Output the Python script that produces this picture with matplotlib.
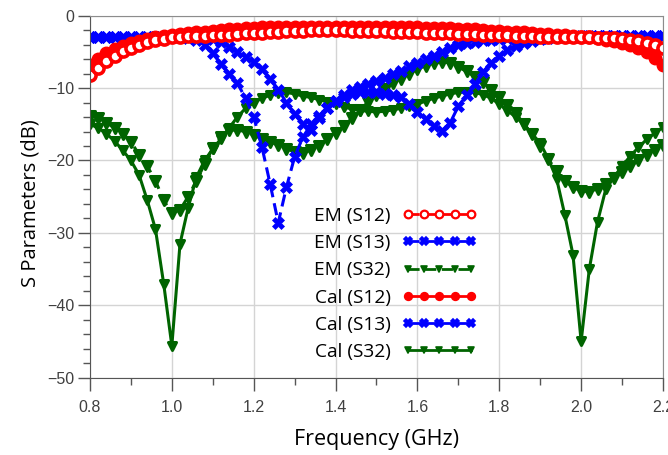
import matplotlib.pyplot as plt
import numpy as np
from matplotlib.lines import Line2D
from matplotlib.markers import MarkerStyle
from matplotlib.ticker import MultipleLocator

# frequency sweep, 0.8-2.2 GHz in 20 MHz steps
freq = np.linspace(0.8, 2.2, 71)

em_s12 = [-8.2, -7.2, -6.3, -5.5, -4.9, -4.4, -4.0, -3.7, -3.4, -3.2,
          -3.0, -2.9, -2.85, -2.8, -2.75, -2.7, -2.65, -2.6, -2.5, -2.45,
          -2.4, -2.35, -2.3, -2.2, -2.15, -2.1, -2.05, -2.0, -2.0, -2.0,
          -2.0, -2.0, -2.05, -2.05, -2.1, -2.1, -2.15, -2.2, -2.25, -2.3,
          -2.3, -2.35, -2.4, -2.4, -2.45, -2.5, -2.5, -2.55, -2.6, -2.65,
          -2.7, -2.7, -2.75, -2.8, -2.85, -2.9, -2.9, -2.95, -2.95, -3.0,
          -3.0, -3.0, -3.05, -3.1, -3.1, -3.2, -3.3, -3.5, -3.8, -4.1, -4.4]
em_s13 = [-3.0, -2.9, -3.0, -2.9, -3.0, -2.9, -3.0, -2.9, -3.0, -3.0,
          -3.0, -3.0, -3.1, -3.3, -4.0, -5.2, -6.7, -8.0, -9.3, -11.4,
          -14.0, -18.1, -23.2, -28.6, -23.7, -19.5, -16.8, -15.0, -13.8, -12.8,
          -11.8, -11.0, -10.3, -9.8, -9.4, -9.0, -8.6, -8.1, -7.6, -7.0,
          -6.5, -6.0, -5.5, -5.0, -4.5, -4.1, -3.8, -3.6, -3.4, -3.3,
          -3.2, -3.1, -3.1, -3.0, -3.0, -3.0, -2.9, -2.9, -2.9, -2.9,
          -2.8, -2.8, -2.8, -2.8, -2.8, -2.8, -2.8, -2.8, -2.8, -2.8, -2.8]
em_s32 = [-13.8, -14.2, -14.8, -15.5, -16.4, -17.4, -19.2, -20.8, -22.8, -25.5,
          -27.3, -26.8, -25.0, -22.8, -20.5, -18.3, -16.8, -15.8, -15.8, -16.0,
          -16.5, -17.0, -17.4, -17.9, -18.4, -18.8, -18.9, -18.6, -18.0, -17.1,
          -16.2, -15.2, -14.2, -13.0, -11.9, -10.9, -10.1, -9.3, -8.7, -8.0,
          -7.4, -6.9, -6.6, -6.4, -6.5, -7.1, -7.7, -8.4, -9.2, -10.2,
          -11.3, -12.4, -13.5, -14.9, -16.4, -18.0, -19.8, -21.5, -22.8, -23.7,
          -24.2, -24.3, -23.9, -23.2, -22.4, -21.6, -20.8, -20.0, -19.2, -18.5, -17.8]

cal_s12 = [-6.8, -6.0, -5.2, -4.6, -4.2, -3.8, -3.5, -3.2, -3.0, -2.8,
           -2.6, -2.5, -2.4, -2.3, -2.2, -2.1, -2.0, -1.9, -1.8, -1.7,
           -1.65, -1.6, -1.6, -1.55, -1.55, -1.5, -1.5, -1.5, -1.5, -1.5,
           -1.5, -1.5, -1.5, -1.5, -1.5, -1.5, -1.55, -1.55, -1.6, -1.6,
           -1.6, -1.65, -1.7, -1.7, -1.75, -1.8, -1.85, -1.9, -2.0, -2.05,
           -2.1, -2.2, -2.25, -2.3, -2.4, -2.5, -2.55, -2.6, -2.7, -2.8,
           -2.9, -3.0, -3.1, -3.3, -3.5, -3.8, -4.1, -4.5, -5.0, -5.8, -6.8]
cal_s13 = [-3.0, -3.0, -2.9, -3.0, -2.9, -3.0, -2.9, -3.0, -3.0, -2.9,
           -3.0, -3.0, -3.0, -3.0, -3.1, -3.2, -3.6, -4.3, -5.0, -5.7,
           -6.4, -7.4, -8.7, -10.2, -12.0, -13.6, -15.0, -15.8, -14.2, -12.8,
           -11.8, -11.2, -10.8, -10.6, -10.5, -10.6, -10.8, -11.0, -11.3, -12.2,
           -13.3, -14.3, -15.2, -15.9, -14.8, -12.5, -11.0, -9.5, -7.8, -6.5,
           -5.5, -4.7, -4.2, -3.8, -3.5, -3.2, -3.1, -3.0, -3.0, -2.9,
           -2.9, -2.9, -2.8, -2.8, -2.8, -2.8, -2.8, -2.8, -2.8, -2.8, -2.8]
cal_s32 = [-15.0, -15.5, -16.3, -17.3, -18.6, -20.0, -22.0, -25.5, -29.5, -37.0,
           -45.6, -31.5, -26.5, -22.3, -20.0, -18.4, -17.0, -15.5, -14.0, -12.8,
           -12.0, -11.4, -11.0, -10.7, -10.6, -10.8, -11.1, -11.3, -11.6, -11.9,
           -12.2, -12.6, -12.9, -13.1, -13.2, -13.3, -13.2, -13.0, -12.8, -12.5,
           -12.2, -11.8, -11.4, -11.1, -10.8, -10.6, -10.5, -10.6, -10.9, -11.4,
           -12.2, -13.1, -14.0, -15.0, -16.3, -17.6, -19.8, -22.5, -27.5, -33.0,
           -45.0, -35.0, -28.5, -24.0, -22.3, -20.8, -19.4, -18.2, -17.1, -16.2, -15.4]

labels = ['EM (S12)', 'EM (S13)', 'EM (S32)', 'Cal (S12)', 'Cal (S13)', 'Cal (S32)']

red = '#ff0000'
blue = '#0000ff'
green = '#006400'
tri = MarkerStyle('v', joinstyle='round')

styles = {
    'EM (S12)': dict(color=red, ls=(0, (4, 2)), marker='o', mfc='white', mec=red, ms=8, mew=2.6),
    'EM (S13)': dict(color=blue, ls=(0, (4, 2)), marker='X', mfc=blue, mec=blue, ms=9, mew=0.5),
    'EM (S32)': dict(color=green, ls=(0, (4, 2)), marker=tri, mfc=green, mec=green, ms=6.5, mew=2.2),
    'Cal (S12)': dict(color=red, ls='-', marker='o', mfc=red, mec=red, ms=9, mew=1),
    'Cal (S13)': dict(color=blue, ls='-', marker='X', mfc=blue, mec=blue, ms=9, mew=0.5),
    'Cal (S32)': dict(color=green, ls='-', marker=tri, mfc=green, mec=green, ms=5.5, mew=2.2),
}
series = {
    'EM (S12)': em_s12, 'EM (S13)': em_s13, 'EM (S32)': em_s32,
    'Cal (S12)': cal_s12, 'Cal (S13)': cal_s13, 'Cal (S32)': cal_s32,
}

fig = plt.figure(figsize=(6.68, 4.55), dpi=100)
ax = fig.add_axes([0.1347, 0.170, 0.8578, 0.7955])

for name in ['Cal (S32)', 'EM (S32)', 'Cal (S13)', 'EM (S13)', 'Cal (S12)', 'EM (S12)']:
    ax.plot(freq, series[name], lw=2.2, **styles[name])

ax.set_xlim(0.8, 2.2)
ax.set_ylim(-50, 0)
ax.xaxis.set_major_locator(MultipleLocator(0.2))
ax.xaxis.set_minor_locator(MultipleLocator(0.1))
ax.yaxis.set_major_locator(MultipleLocator(10))
ax.yaxis.set_minor_locator(MultipleLocator(2))
ax.set_xticklabels([f'{v:.1f}' for v in ax.get_xticks()])
ax.grid(True, which='major', color='#d4d4d4', lw=1)
ax.set_axisbelow(True)

for s in ax.spines.values():
    s.set_color('#8c8c8c')
ax.spines['left'].set_color('#555555')
ax.spines['bottom'].set_color('#555555')
ax.tick_params(which='major', length=9, width=1, color='#555555', pad=2,
               labelsize=11.5, labelcolor='#404040')
ax.tick_params(which='minor', length=5, width=1, color='#555555')
ax.tick_params(axis='x', which='major', pad=7)
for t in ax.get_xticklabels() + ax.get_yticklabels():
    t.set_family('Liberation Sans')

ax.set_xlabel('Frequency (GHz)', family='Open Sans', fontsize=15.5, va='center')
ax.xaxis.set_label_coords(0.5, -0.172)
ax.set_ylabel('S Parameters (dB)', family='Open Sans', fontsize=14.5, va='center')
ax.yaxis.set_label_coords(-0.103, 0.481)

# smaller markers in the legend samples
handles = []
for name in labels:
    st = dict(styles[name])
    st['ms'] = 5.5 if st['marker'] is not tri else 4.5
    st['mew'] = 1.6 if name == 'EM (S12)' else 1.2
    handles.append(Line2D([], [], lw=2, **st))
leg = ax.legend(handles, labels, loc='center', bbox_to_anchor=(0.533, 0.259),
                frameon=False, markerfirst=False, numpoints=5, handlelength=3.9,
                handletextpad=0.6, labelspacing=0.48,
                prop={'family': 'Open Sans', 'size': 13.8})

fig.savefig('out.png', dpi=100)
